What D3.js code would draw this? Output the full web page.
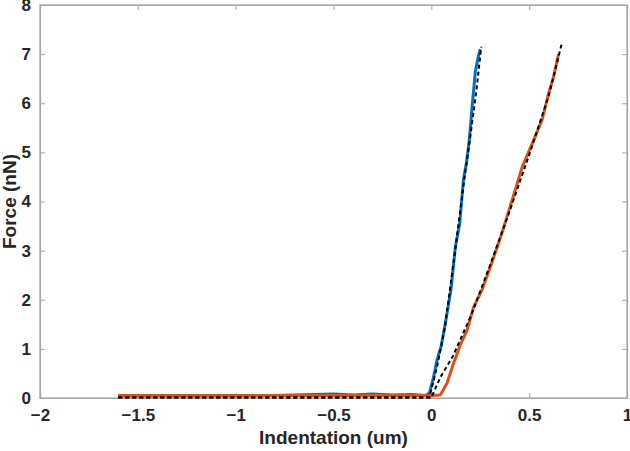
<!DOCTYPE html>
<html><head><meta charset="utf-8">
<script src="https://cdn.jsdelivr.net/npm/d3@7"></script>
<style>body{margin:0;background:#fff}svg{display:block}text{font-family:"Liberation Sans",Arial,sans-serif;font-weight:bold;fill:#262626}</style>
</head><body>
<svg id="c" width="630" height="451"></svg>
<script>
const xTicks = [-2, -1.5, -1, -0.5, 0, 0.5, 1];
const yTicks = [0, 1, 2, 3, 4, 5, 6, 7, 8];
const xLabel = "Indentation (um)";
const yLabel = "Force (nN)";

// blue curve (indentation um, force nN)
const blueX = [-1.6, -1.2, -0.8, -0.6, -0.5, -0.4, -0.3, -0.2, -0.1, -0.03, -0.01, 0.01, 0.029, 0.05, 0.072, 0.1, 0.123, 0.145, 0.164, 0.18, 0.194, 0.21, 0.225, 0.24, 0.25];
const blueY = [0.04, 0.04, 0.05, 0.07, 0.08, 0.06, 0.08, 0.06, 0.07, 0.05, 0.10, 0.40, 0.77, 1.05, 1.53, 2.20, 3.08, 3.55, 4.44, 4.80, 5.25, 6.00, 6.65, 6.95, 7.10];
// orange curve
const orangeX = [-1.6, -1.2, -0.8, -0.4, 0.0, 0.046, 0.08, 0.114, 0.148, 0.183, 0.216, 0.259, 0.302, 0.361, 0.413, 0.464, 0.523, 0.566, 0.6, 0.625, 0.65];
const orangeY = [0.05, 0.05, 0.05, 0.05, 0.05, 0.06, 0.30, 0.71, 1.08, 1.38, 1.85, 2.20, 2.67, 3.36, 4.03, 4.70, 5.25, 5.66, 6.21, 6.54, 7.00];
// fitted curves (dashed)
const fitBlueX = [-1.6, -0.01, 0.03, 0.07, 0.12, 0.165, 0.2, 0.23, 0.255];
const fitBlueY = [0.01, 0.01, 0.65, 1.45, 2.95, 4.35, 5.35, 6.25, 7.15];
const fitOrangeX = [-1.6, 0.0, 0.046, 0.11, 0.2, 0.3, 0.4, 0.5, 0.6, 0.665];
const fitOrangeY = [0.01, 0.01, 0.42, 0.85, 1.65, 2.7, 3.8, 4.95, 6.15, 7.19];

const W = 630, H = 451;
const m = {l: 40, r: 3, t: 5, b: 53};
const svg = d3.select("#c");
const x = d3.scaleLinear().domain([-2, 1]).range([m.l, W - m.r]);
const y = d3.scaleLinear().domain([0, 8]).range([H - m.b, m.t]);
const axisColor = "#a6a6a6";

// box
svg.append("rect").attr("x", x(-2)).attr("y", y(8)).attr("width", x(1) - x(-2)).attr("height", y(0) - y(8))
  .attr("fill", "none").attr("stroke", axisColor).attr("stroke-width", 1.2);

const gx = svg.append("g").attr("transform", `translate(0,${y(0)})`)
  .call(d3.axisBottom(x).tickValues(xTicks).tickSize(-5).tickPadding(11).tickFormat(d3.format("")));
const gy = svg.append("g").attr("transform", `translate(${x(-2)},0)`)
  .call(d3.axisLeft(y).tickValues(yTicks).tickSize(-5).tickPadding(9).tickFormat(d3.format("")));
const gr = svg.append("g").attr("transform", `translate(${x(1)},0)`)
  .call(d3.axisRight(y).tickValues(yTicks).tickSize(-5).tickFormat(""));
const gt = svg.append("g").attr("transform", `translate(0,${y(8)})`)
  .call(d3.axisTop(x).tickValues(xTicks).tickSize(-5).tickFormat(""));
[gx, gy, gr, gt].forEach(g => {
  g.select(".domain").attr("stroke", axisColor).attr("stroke-width", 1.2);
  g.selectAll(".tick line").attr("stroke", axisColor);
  g.selectAll("text").attr("font-size", 17).attr("font-family", "Liberation Sans, Arial, sans-serif").attr("font-weight", "bold").attr("fill", "#262626");
});
gx.selectAll("text").attr("dy", "0.71em");

const line = d3.line().x(d => x(d[0])).y(d => y(d[1]));
const zip = (a, b) => a.map((v, i) => [v, b[i]]);

svg.append("path").datum(zip(blueX, blueY)).attr("d", line).attr("fill", "none")
  .attr("stroke", "#0072BD").attr("stroke-width", 3).attr("stroke-linejoin", "round");
svg.append("path").datum(zip(orangeX, orangeY)).attr("d", line).attr("fill", "none")
  .attr("stroke", "#D95319").attr("stroke-width", 3).attr("stroke-linejoin", "round");
svg.append("path").datum(zip(fitBlueX, fitBlueY)).attr("d", line).attr("fill", "none")
  .attr("stroke", "#000").attr("stroke-width", 2).attr("stroke-dasharray", "4,3");
svg.append("path").datum(zip(fitOrangeX, fitOrangeY)).attr("d", line).attr("fill", "none")
  .attr("stroke", "#000").attr("stroke-width", 2).attr("stroke-dasharray", "4,3");

svg.append("text").attr("x", x(-0.5)).attr("y", 444).attr("text-anchor", "middle")
  .attr("font-size", 19).text(xLabel);
svg.append("text").attr("transform", `translate(16,${y(4)}) rotate(-90)`).attr("text-anchor", "middle")
  .attr("font-size", 19).text(yLabel);
</script>
</body></html>
